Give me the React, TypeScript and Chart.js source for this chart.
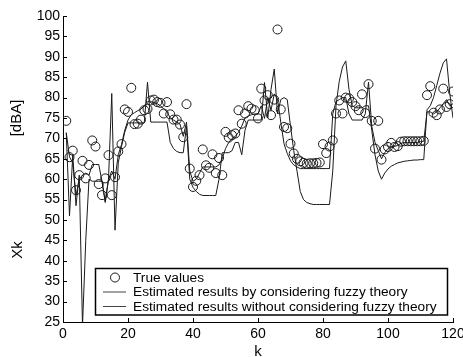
import React, { useEffect, useRef } from 'react';
import { Chart, registerables } from 'chart.js';

Chart.register(...registerables);

const TRUE_VALUES = [
  74.3, 65.4, 67.0, 57.3, 61.0, 64.5, 60.2, 63.5, 69.5, 68.0,
  58.8, 56.1, 60.2, 65.9, 56.1, 60.5, 66.8, 68.6, 77.1, 76.5,
  82.4, 73.5, 73.6, 74.6, 76.9, 77.2, 79.3, 79.5, 78.9, 78.7,
  76.1, 78.9, 75.9, 74.6, 74.6, 73.4, 70.3, 78.4, 62.6, 58.1,
  59.6, 61.0, 67.3, 63.4, 62.8, 66.1, 61.5, 65.2, 61.0, 71.6,
  70.2, 70.8, 71.2, 76.9, 73.6, 76.1, 77.9, 77.3, 76.9, 74.9,
  82.2, 79.3, 80.6, 75.7, 79.5, 96.7, 77.1, 72.8, 72.5, 68.7,
  66.3, 65.0, 64.4, 64.0, 63.8, 63.9, 63.9, 64.0, 64.1, 68.6,
  66.4, 68.0, 69.5, 76.1, 79.3, 76.1, 80.0, 79.8, 78.9, 77.9,
  76.9, 80.8, 76.2, 83.3, 74.3, 67.5, 74.3, 64.8, 67.3, 67.9,
  68.9, 67.9, 68.1, 69.2, 69.3, 69.3, 69.3, 69.3, 69.3, 69.3,
  69.4, 80.6, 82.8, 76.3, 75.7, 77.1, 82.2, 77.7, 78.4, 81.5,
];

const FUZZY_EST = [
  71.4, 65.5, 64.0, 56.0, 60.0, 61.0, 61.5, 61.0, 63.6, 63.6,
  63.6, 59.5, 54.5, 60.0, 62.0, 60.0, 66.0, 68.5, 72.0, 74.5,
  75.8, 76.3, 76.8, 77.2, 78.0, 79.0, 79.0, 78.8, 78.5, 78.0,
  77.2, 76.5, 75.0, 74.5, 74.0, 73.5, 70.5, 74.0, 62.0, 59.5,
  60.0, 61.5, 63.0, 63.0, 63.0, 63.0, 63.0, 63.5, 65.0, 67.5,
  69.0, 70.0, 70.5, 71.5, 73.0, 75.0, 75.5, 75.8, 76.0, 76.0,
  78.0, 74.9, 80.0, 76.9, 80.9, 79.7, 74.0, 68.7, 66.3, 64.5,
  63.5, 63.0, 62.6, 62.6, 62.6, 62.6, 62.6, 62.6, 62.6, 62.6,
  62.6, 62.6, 76.0, 79.0, 79.5, 80.0, 80.0, 76.0, 74.5, 74.5,
  74.5, 74.5, 76.0, 83.8, 73.0, 69.0, 67.0, 65.0, 66.5, 67.5,
  68.0, 68.0, 68.3, 68.8, 69.0, 69.0, 69.0, 69.0, 69.0, 69.2,
  69.3, 76.5, 76.5, 76.0, 76.5, 77.5, 78.5, 79.5, 78.0, 78.5,
];

const PLAIN_EST = [
  71.4, 51.0, 66.0, 53.5, 61.0, 24.0, 45.0, 60.0, 59.5, 59.5,
  59.5, 59.5, 54.3, 60.0, 81.0, 47.5, 64.0, 68.0, 71.5, 73.8,
  73.8, 73.8, 73.8, 73.8, 73.8, 83.8, 74.0, 74.0, 74.0, 74.0,
  74.0, 74.0, 69.0, 67.5, 66.8, 66.5, 66.5, 73.0, 60.0, 58.0,
  57.0, 56.3, 56.0, 56.0, 56.0, 56.0, 56.0, 60.0, 66.5, 66.5,
  66.5, 67.0, 69.0, 69.0, 66.0, 72.0, 74.5, 74.5, 74.5, 74.5,
  74.5, 83.7, 75.0, 82.0, 87.0, 76.0, 79.5, 80.0, 79.5, 73.0,
  67.0, 62.0, 57.0, 55.0, 54.3, 54.0, 53.8, 53.8, 53.8, 53.8,
  53.8, 53.8, 62.0, 78.0, 84.0, 87.5, 89.0, 82.0, 78.0, 77.5,
  77.5, 77.5, 78.0, 78.0, 72.0, 66.0, 62.0, 60.0, 61.5, 62.5,
  63.2, 63.6, 64.0, 64.2, 64.4, 64.5, 64.6, 64.7, 64.7, 64.8,
  64.8, 77.0, 78.0, 80.0, 83.0, 86.0, 88.5, 89.5, 81.0, 75.0,
];

const X_TICKS = [0, 20, 40, 60, 80, 100, 120];
const Y_TICKS = [25, 30, 35, 40, 45, 50, 55, 60, 65, 70, 75, 80, 85, 90, 95, 100];
const LEGEND_LABELS = [
  'True values',
  'Estimated results by considering fuzzy theory',
  'Estimated results without considering fuzzy theory',
];
const X_TITLE = 'k';
const Y_TITLE_UNIT = '[dBA]';
const Y_TITLE_VAR = 'Xk';

const FONT = '"Liberation Sans", Arial, sans-serif';
const INK = '#1a1a1a';

const decor = {
  id: 'decor',
  afterDraw(chart: any) {
    const { ctx, chartArea, scales } = chart;
    const xs = scales.x;
    const ys = scales.y;
    ctx.save();
    // inward ticks
    ctx.strokeStyle = '#000';
    ctx.lineWidth = 1;
    ctx.beginPath();
    for (const t of ys.ticks) {
      const py = Math.round(ys.getPixelForValue(t.value)) + 0.5;
      ctx.moveTo(chartArea.left, py);
      ctx.lineTo(chartArea.left + 4, py);
    }
    for (const t of xs.ticks) {
      const px = Math.round(xs.getPixelForValue(t.value)) + 0.5;
      ctx.moveTo(px, chartArea.bottom);
      ctx.lineTo(px, chartArea.bottom - 4);
    }
    ctx.stroke();

    // axis titles
    ctx.fillStyle = '#000';
    ctx.font = `15px ${FONT}`;
    ctx.textAlign = 'center';
    ctx.textBaseline = 'alphabetic';
    ctx.fillText(X_TITLE, (chartArea.left + chartArea.right) / 2, 356);
    ctx.save();
    ctx.translate(21, 118);
    ctx.rotate(-Math.PI / 2);
    ctx.fillText(Y_TITLE_UNIT, 0, 0);
    ctx.restore();
    ctx.save();
    ctx.translate(21.5, 250);
    ctx.rotate(-Math.PI / 2);
    ctx.fillText(Y_TITLE_VAR, 0, 0);
    ctx.restore();

    // legend
    const bx = 95.5, by = 268.5, bw = 352, bh = 46.5;
    ctx.fillStyle = '#fff';
    ctx.fillRect(bx, by, bw, bh);
    ctx.strokeStyle = '#000';
    ctx.lineWidth = 1.5;
    ctx.strokeRect(bx, by, bw, bh);
    const rows = [277.5, 292, 306.5];
    const ds = chart.data.datasets;
    ctx.font = `13.7px ${FONT}`;
    ctx.textAlign = 'left';
    ctx.textBaseline = 'middle';
    for (let i = 0; i < ds.length; i++) {
      const yy = rows[i];
      if (i === 0) {
        ctx.beginPath();
        ctx.arc(115, yy, 4.5, 0, Math.PI * 2);
        ctx.strokeStyle = INK;
        ctx.lineWidth = 1;
        ctx.stroke();
      } else {
        ctx.beginPath();
        ctx.moveTo(103, yy);
        ctx.lineTo(126, yy);
        ctx.strokeStyle = '#444';
        ctx.lineWidth = 1;
        ctx.stroke();
      }
      ctx.fillStyle = '#000';
      ctx.fillText(ds[i].label, 133, yy + 0.5);
    }
    ctx.restore();
  },
};

export default function App() {
  const ref = useRef<HTMLCanvasElement | null>(null);
  useEffect(() => {
    if (!ref.current) return;
    const toPts = (arr: number[]) => arr.map((v, i) => ({ x: i + 1, y: v }));
    const tickFont = { family: FONT, size: 14 };
    const chart = new Chart(ref.current, {
      type: 'scatter',
      data: {
        datasets: [
          {
            label: LEGEND_LABELS[0],
            data: toPts(TRUE_VALUES),
            showLine: false,
            pointStyle: 'circle',
            pointRadius: 4.5,
            pointBorderWidth: 1,
            borderColor: INK,
            backgroundColor: 'rgba(0,0,0,0)',
            pointBackgroundColor: 'rgba(0,0,0,0)',
            pointBorderColor: INK,
          },
          {
            label: LEGEND_LABELS[1],
            data: toPts(FUZZY_EST),
            showLine: true,
            pointRadius: 0,
            borderColor: INK,
            borderWidth: 1,
            tension: 0,
          },
          {
            label: LEGEND_LABELS[2],
            data: toPts(PLAIN_EST),
            showLine: true,
            pointRadius: 0,
            borderColor: INK,
            borderWidth: 1,
            tension: 0,
          },
        ],
      } as any,
      options: {
        responsive: false,
        animation: false,
        devicePixelRatio: 1,
        layout: { padding: { top: 16, right: 10, left: 0, bottom: 0 } },
        plugins: { legend: { display: false }, tooltip: { enabled: false } },
        scales: {
          x: {
            type: 'linear',
            min: 0,
            max: 120,
            afterBuildTicks: (s: any) => {
              s.ticks = X_TICKS.map((v) => ({ value: v }));
            },
            afterFit: (s: any) => {
              s.height = 35;
              s.paddingLeft = 0;
              s.paddingRight = 0;
            },
            ticks: { font: tickFont, color: '#000', padding: 4, maxRotation: 0, autoSkip: false },
            grid: { display: false, drawTicks: false },
            border: { display: true, color: '#000', width: 1 },
          },
          y: {
            type: 'linear',
            min: 25,
            max: 100,
            afterBuildTicks: (s: any) => {
              s.ticks = Y_TICKS.map((v) => ({ value: v }));
            },
            afterFit: (s: any) => {
              s.width = 63;
              s.paddingTop = 0;
              s.paddingBottom = 0;
            },
            ticks: { font: tickFont, color: '#000', padding: 3, autoSkip: false },
            grid: { display: false, drawTicks: false },
            border: { display: true, color: '#000', width: 1 },
          },
        },
      } as any,
      plugins: [decor],
    });
    return () => chart.destroy();
  }, []);

  return (
    <div style={{ position: 'absolute', left: 0, top: 0, width: 463, height: 357, background: '#fff' }}>
      <canvas ref={ref} width={463} height={357} style={{ display: 'block' }} />
    </div>
  );
}
